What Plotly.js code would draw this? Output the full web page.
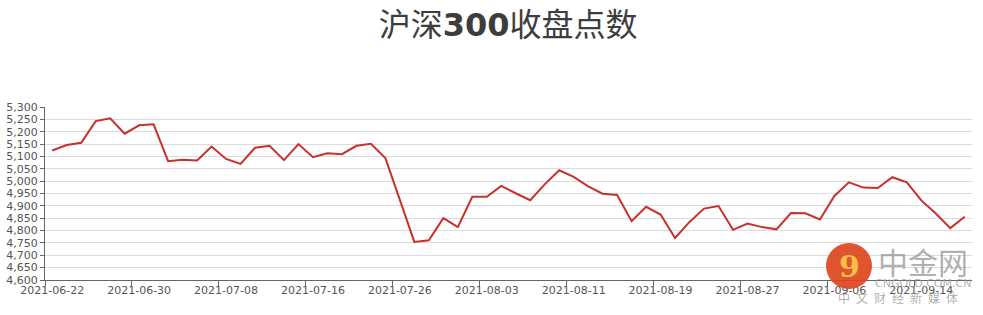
<!DOCTYPE html>
<html>
<head>
<meta charset="utf-8">
<script src="https://cdn.plot.ly/plotly-3.0.1.min.js"></script>
<style>html,body{margin:0;padding:0;background:#fff;}#chart{width:983px;height:315px;}</style>
</head>
<body>
<div id="chart"></div>
<script>
var dates = [
  "2021-06-22","2021-06-23","2021-06-24","2021-06-25","2021-06-28","2021-06-29","2021-06-30",
  "2021-07-01","2021-07-02","2021-07-05","2021-07-06","2021-07-07","2021-07-08","2021-07-09",
  "2021-07-12","2021-07-13","2021-07-14","2021-07-15","2021-07-16","2021-07-19","2021-07-20",
  "2021-07-21","2021-07-22","2021-07-23","2021-07-26","2021-07-27","2021-07-28","2021-07-29",
  "2021-07-30","2021-08-02","2021-08-03","2021-08-04","2021-08-05","2021-08-06","2021-08-09",
  "2021-08-10","2021-08-11","2021-08-12","2021-08-13","2021-08-16","2021-08-17","2021-08-18",
  "2021-08-19","2021-08-20","2021-08-23","2021-08-24","2021-08-25","2021-08-26","2021-08-27",
  "2021-08-30","2021-08-31","2021-09-01","2021-09-02","2021-09-03","2021-09-06","2021-09-07",
  "2021-09-08","2021-09-09","2021-09-10","2021-09-13","2021-09-14","2021-09-15","2021-09-16",
  "2021-09-17"
];
var closeValues = [
  5124,5146,5155,5243,5254,5192,5226,5230,5081,5087,5084,5140,5090,5070,
  5135,5143,5085,5150,5097,5113,5109,5143,5151,5093,4924,4754,4761,4850,
  4814,4937,4937,4981,4951,4923,4987,5044,5017,4979,4949,4944,4838,4896,
  4865,4770,4835,4889,4899,4803,4828,4814,4805,4871,4870,4845,4940,4995,
  4974,4972,5016,4995,4922,4869,4810,4856
];
var titleText = "沪深<b>300</b>收盘点数";

var W = 983, H = 315;
var M = {l: 45, r: 11, t: 107, b: 35};
function px(x){ return (x - M.l) / (W - M.l - M.r); }
function py(y){ return (H - M.b - y) / (H - M.t - M.b); }

var trace = {
  type: "scatter", mode: "lines",
  x: dates, y: closeValues,
  line: {color: "#c9302c", width: 2},
  hoverinfo: "x+y"
};

var wm = "rgba(150,150,150,0.75)";
var sp = "\u2002";
var layout = {
  width: W, height: H,
  margin: M,
  paper_bgcolor: "#fff", plot_bgcolor: "#fff",
  showlegend: false,
  title: {
    text: titleText,
    x: 0.517, xanchor: "center",
    y: 1 - 25/H, yanchor: "middle",
    font: {family: "DejaVu Sans, 'Noto Sans CJK SC', sans-serif", size: 32, color: "#3d3d3d"}
  },
  xaxis: {
    type: "category",
    categoryorder: "array", categoryarray: dates,
    range: [-0.5, dates.length - 0.5],
    tickmode: "linear", tick0: 0, dtick: 6,
    tickson: "boundaries",
    tickangle: 0,
    ticks: "outside", ticklen: 5, tickcolor: "#666", tickwidth: 1,
    showline: true, linecolor: "#666", linewidth: 1,
    showgrid: false, zeroline: false,
    tickfont: {family: "DejaVu Sans, sans-serif", size: 11, color: "#555"},
    fixedrange: true
  },
  yaxis: {
    range: [4600, 5300],
    tickmode: "linear", tick0: 4600, dtick: 50,
    tickformat: ",d",
    ticks: "outside", ticklen: 4, tickcolor: "#666",
    showline: true, linecolor: "#666", linewidth: 1,
    showgrid: true, gridcolor: "#dcdcdc", gridwidth: 1,
    zeroline: false,
    tickfont: {family: "DejaVu Sans, sans-serif", size: 11, color: "#555"},
    fixedrange: true
  },
  shapes: [
    {type: "circle", xref: "paper", yref: "paper",
     x0: px(826), x1: px(872), y0: py(289), y1: py(243),
     fillcolor: "rgba(222,70,28,0.92)", line: {width: 0}, layer: "above"}
  ],
  annotations: [
    {xref: "paper", yref: "paper", x: px(849), y: py(266), xanchor: "center", yanchor: "middle",
     text: "<b>9</b>",
     showarrow: false, font: {family: "DejaVu Serif, serif", size: 30, color: "rgba(250,200,70,0.95)"}},
    {xref: "paper", yref: "paper", x: px(923), y: py(261), xanchor: "center", yanchor: "middle",
     text: "中金网",
     showarrow: false, font: {family: "'Noto Sans CJK SC', sans-serif", size: 30, color: wm}},
    {xref: "paper", yref: "paper", x: px(923), y: py(283), xanchor: "center", yanchor: "middle",
     text: "CNGOLD.COM.CN",
     showarrow: false, font: {family: "DejaVu Sans, sans-serif", size: 11, color: wm}},
    {xref: "paper", yref: "paper", x: px(898), y: py(297), xanchor: "center", yanchor: "middle",
     text: ["中","文","财","经","新","媒","体"].join(sp),
     showarrow: false, font: {family: "'Noto Sans CJK SC', sans-serif", size: 12, color: wm}}
  ]
};

Plotly.newPlot("chart", [trace], layout, {displayModeBar: false, staticPlot: true});
</script>
</body>
</html>
